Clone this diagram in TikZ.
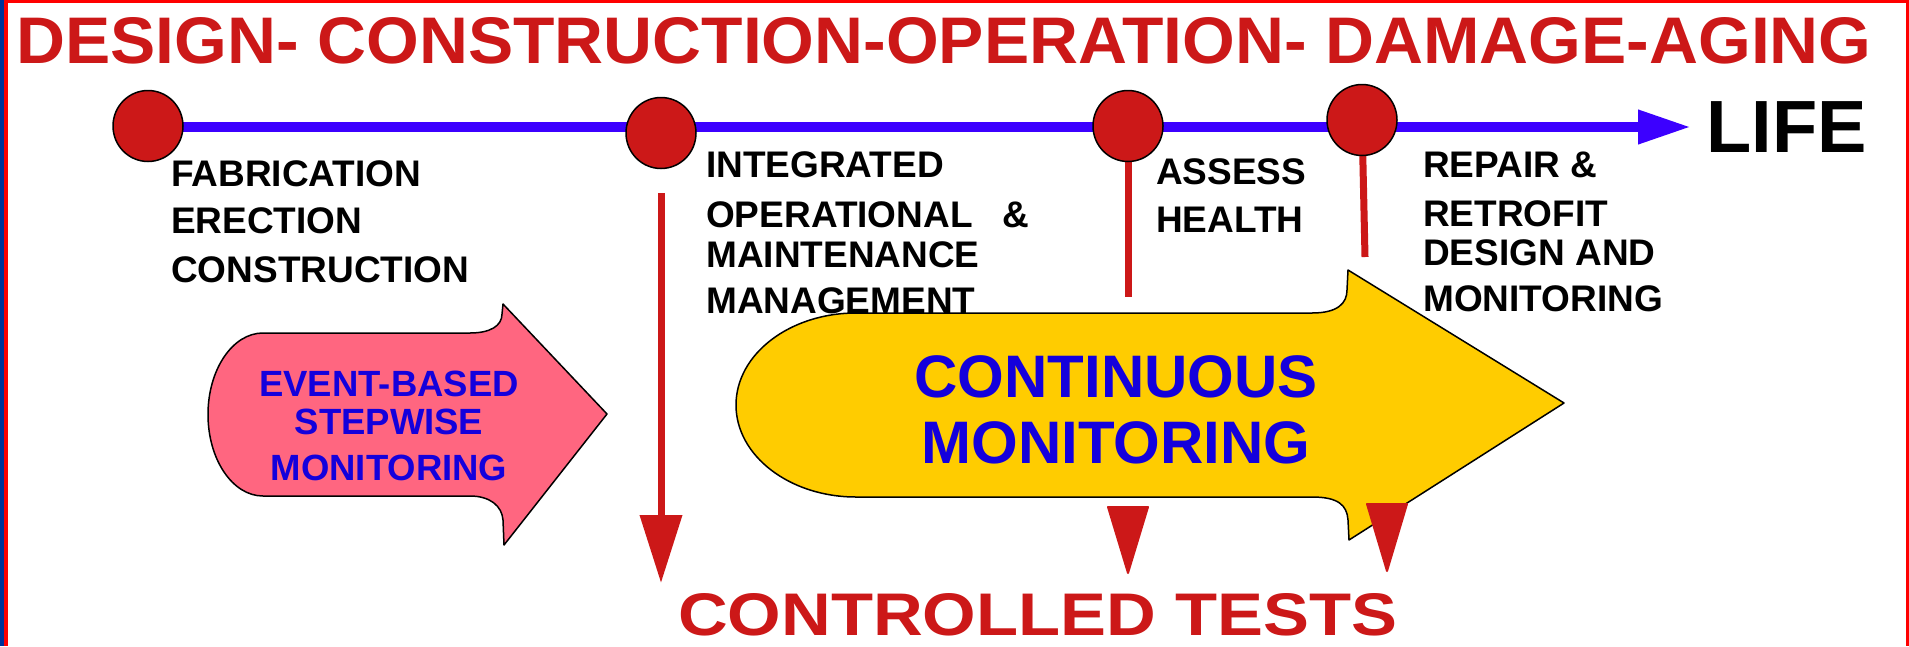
\documentclass[tikz,border=0pt]{standalone}
\usepackage{fontspec}
\usepackage{graphicx}
\setmainfont{Liberation Sans}
\usetikzlibrary{shapes.geometric,arrows.meta}
\definecolor{dred}{RGB}{204,24,24}
\definecolor{bred}{RGB}{255,0,0}
\definecolor{bblue}{RGB}{0,51,153}
\definecolor{lineblue}{RGB}{60,0,255}
\definecolor{txtblue}{RGB}{20,0,220}
\definecolor{pinkfill}{RGB}{255,102,128}
\definecolor{yellowfill}{RGB}{255,204,0}
\pgfdeclarelayer{bg}
\pgfdeclarelayer{lines}
\pgfsetlayers{bg,lines,main}
\begin{document}
\begin{tikzpicture}[x=1pt,y=-1pt,
  lbl/.style={anchor=base west, inner sep=0pt, font=\fontsize{37}{44}\selectfont\bfseries},
  bluelbl/.style={anchor=base, inner sep=0pt, text=txtblue, font=\fontsize{36.5}{40}\selectfont\bfseries},
  biglbl/.style={anchor=base, inner sep=0pt, text=txtblue, font=\fontsize{60}{70}\selectfont\bfseries},
  dot/.style={ellipse, draw=black, line width=1.5pt, fill=dred, minimum width=70pt, minimum height=71pt, inner sep=0pt},
  shaft/.style={draw=dred, line width=7pt},
  headtri/.style={fill=dred, draw=dred, line width=2pt, line join=round},
  bigarrow/.style={draw=black, line width=1.5pt, line join=round}
]
\useasboundingbox (0,0) rectangle (1909,646);
\begin{pgfonlayer}{bg}
\fill[white] (0,0) rectangle (1909,646);
\fill[bblue] (0,0) rectangle (4,646);
\fill[bred] (4,0) rectangle (8,646);
\fill[bred] (8,0) rectangle (1909,3);
\fill[bred] (1906,0) rectangle (1909,646);
\end{pgfonlayer}

% title
\node[anchor=base west, inner sep=0pt, text=dred] (title) at (16,63)
  {\resizebox{1855pt}{46pt}{\bfseries DESIGN- CONSTRUCTION-OPERATION- DAMAGE-AGING}};

% milestones
\node[dot] (c1) at (148,126) {};
\node[dot] (c2) at (661,133) {};
\node[dot] (c3) at (1128,126) {};
\node[dot] (c4) at (1362,120) {};
\coordinate (lifeend) at (1691,127);
\coordinate (t1) at (661,583);
\coordinate (s3end) at (1128,297);
\coordinate (s4end) at (1365,257);

\begin{pgfonlayer}{lines}
\draw[line width=10pt, lineblue, -{Triangle[length=53pt,width=32pt]}] (c1.center |- lifeend) -- (lifeend);
\draw[shaft, shorten <=24pt, -{Triangle[length=68pt,width=41pt]}] (c2.south) -- (t1);
\draw[shaft] (c3) -- (s3end);
\draw[shaft] (c4.center) -- (s4end);
\end{pgfonlayer}

% pink arrow
\draw[bigarrow, fill=pinkfill] (263,333) -- (470,333)
  .. controls (490,333) and (502,326) .. (502,314) -- (503,304) -- (607,414) -- (504,545)
  -- (503,520) .. controls (502,506) and (490,496) .. (470,496) -- (263,496)
  arc[start angle=270, end angle=90, x radius=55pt, y radius=81.5pt] -- cycle;

% yellow arrow
\draw[bigarrow, fill=yellowfill] (856,313) -- (1312,313)
  .. controls (1338,313) and (1347,303) .. (1347,290) -- (1348,270) -- (1564,403) -- (1349,540)
  -- (1348,520) .. controls (1347,505) and (1338,497) .. (1312,497) -- (856,497)
  arc[start angle=270, end angle=90, x radius=120pt, y radius=92pt] -- cycle;

% loose arrow heads
\coordinate (h3) at (1128,573);
\coordinate (h4) at (1387,571);
\fill[headtri] (1108,507) -- (1148,507) -- (h3) -- cycle;
\fill[headtri] (1367,504) -- (1407,504) -- (h4) -- cycle;

% labels
\node[lbl] (fab) at (171,186) {FABRICATION};
\node[lbl] (ere) at (171,233) {ERECTION};
\node[lbl] (con) at (171,282) {CONSTRUCTION};
\node[lbl] (int) at (706,177) {INTEGRATED};
\node[lbl] (ope) at (706,227) {OPERATIONAL\hspace{30pt}\&};
\node[lbl] (mai) at (706,267) {MAINTENANCE};
\node[lbl] (man) at (706,313) {MANAGEMENT};
\node[lbl] (ass) at (1156,184) {ASSESS};
\node[lbl] (hea) at (1156,232) {HEALTH};
\node[lbl] (rep) at (1423,177) {REPAIR \&};
\node[lbl] (ret) at (1423,226) {RETROFIT};
\node[lbl] (des) at (1423,265) {DESIGN AND};
\node[lbl] (mon) at (1423,311) {MONITORING};
\node[anchor=base west, inner sep=0pt, font=\fontsize{74}{80}\selectfont\bfseries] (life) at (1706,152) {LIFE};

\node[bluelbl] (ev1) at (389,396) {EVENT-BASED};
\node[bluelbl] (ev2) at (389,434) {STEPWISE};
\node[bluelbl] (ev3) at (389,480) {MONITORING};
\node[biglbl] (cm1) at (1116,397) {CONTINUOUS};
\node[biglbl] (cm2) at (1116,463) {MONITORING};

\node[anchor=base west, inner sep=0pt, text=dred] (ct) at (678,635)
  {\resizebox{719pt}{42pt}{\bfseries CONTROLLED TESTS}};
\end{tikzpicture}
\end{document}
